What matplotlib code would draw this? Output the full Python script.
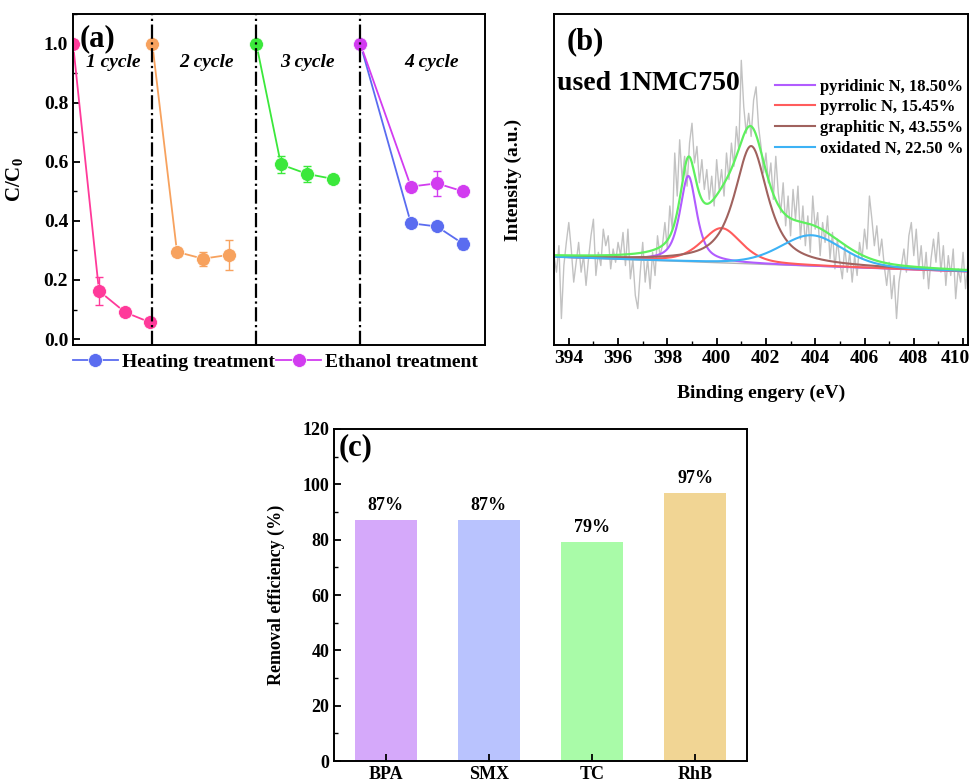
import numpy as np
import matplotlib
matplotlib.use("Agg")
import matplotlib.pyplot as plt
from matplotlib.ticker import MultipleLocator, FormatStrFormatter
from matplotlib.transforms import ScaledTranslation

# ---------------- data: (a) cycling test ----------------
cycle_x = [[0, 1, 2, 2.95], [3.05, 4, 5, 6], [7.05, 8, 9, 10]]
cycle_y = [[1.0, 0.163, 0.091, 0.057],
           [1.0, 0.295, 0.272, 0.285],
           [1.0, 0.591, 0.559, 0.542]]
cycle_err = [[0, 0.047, 0, 0],
             [0, 0, 0.024, 0.05],
             [0, 0.029, 0.028, 0]]
cycle_colors = ["#FF3A9A", "#F7A25E", "#3BE83B"]
cycle_labels = ["1 cycle", "2 cycle", "3 cycle", "4 cycle"]
cycle_label_x = [1.55, 5.15, 9.0, 13.8]
cycle_bounds = [3.05, 7.05, 11.05]

c4_x = [11.05, 13, 14, 15]
heat_y = [1.0, 0.392, 0.381, 0.323]
heat_err = [0, 0, 0, 0.019]
eth_y = [1.0, 0.516, 0.527, 0.500]
eth_err = [0, 0, 0.043, 0]

# ---------------- data: (b) N 1s XPS ----------------
raw_start, raw_step = 393.4, 0.1
raw_int = [27, 22, 30, 8, 24, 31, 37, 29, 19, 25, 31, 22, 27, 18, 26, 33, 38, 21, 28, 24,
           35, 30, 33, 23, 29, 25, 31, 27, 34, 24, 35, 20, 26, 15, 11, 22, 31, 19, 26, 17,
           28, 21, 33, 27, 30, 37, 29, 42, 35, 58, 45, 62, 50, 57, 48, 61, 67, 55, 60, 49,
           56, 47, 53, 44, 51, 42, 56, 47, 53, 45, 58, 50, 61, 54, 66, 59, 86, 72, 64, 70,
           63, 74, 78, 66, 60, 52, 58, 49, 55, 44, 57, 46, 40, 49, 36, 45, 33, 47, 38, 48,
           32, 42, 30, 39, 28, 45, 35, 40, 27, 37, 31, 39, 26, 34, 23, 32, 25, 20, 30, 22,
           28, 19, 27, 21, 31, 26, 35, 29, 45, 38, 30, 36, 27, 32, 24, 18, 25, 14, 21, 8,
           19, 24, 29, 22, 33, 37, 27, 35, 23, 30, 20, 28, 17, 26, 32, 25, 34, 22, 30, 18,
           27, 21, 29, 14, 23, 19, 28, 17, 25]
raw_e = raw_start + raw_step * np.arange(len(raw_int))

bg_e = [393.4, 410.2]
bg_int = [26.6, 22.2]

peak_names = ["pyridinic N, 18.50%", "pyrrolic N, 15.45%",
              "graphitic N, 43.55%", "oxidated N, 22.50 %"]
peak_center = [398.85, 400.2, 401.4, 403.85]
peak_height = [25.9, 10.5, 35.6, 9.3]
peak_fwhm = [0.8, 1.9, 1.6, 3.0]
peak_eta = [0.7, 0.5, 0.8, 0.3]
peak_colors = ["#B15CFF", "#FF5C5C", "#A0625E", "#3DB2F5"]

# ---------------- data: (c) pollutants ----------------
pollutants = ["BPA", "SMX", "TC", "RhB"]
removal = [87, 87, 79, 97]
bar_colors = ["#D5A9FA", "#B9C3FE", "#A9FBA8", "#F1D594"]

# ---------------- style ----------------
plt.rcParams["font.family"] = ["Liberation Serif", "DejaVu Serif"]
plt.rcParams["font.weight"] = "bold"
plt.rcParams["axes.labelweight"] = "bold"
plt.rcParams["mathtext.fontset"] = "custom"
plt.rcParams["mathtext.rm"] = "Liberation Serif:bold"
plt.rcParams["mathtext.bf"] = "Liberation Serif:bold"
plt.rcParams["axes.linewidth"] = 1.4
plt.rcParams["xtick.direction"] = "in"
plt.rcParams["ytick.direction"] = "in"

W, H = 972, 783
fig = plt.figure(figsize=(W / 100, H / 100), dpi=100)


def box(left, top, right, bottom):
    return [left / W, 1 - bottom / H, (right - left) / W, (bottom - top) / H]


mk = dict(marker="o", ms=10, mec="white", mew=0.5)

# ---------------- (a) ----------------
ax = fig.add_axes(box(73, 14, 485, 345))
for x, y, e, c in zip(cycle_x, cycle_y, cycle_err, cycle_colors):
    ax.plot(x, y, color=c, lw=1.3, **mk)
    e = np.array(e)
    k = e > 0
    ax.errorbar(np.array(x)[k], np.array(y)[k], yerr=e[k], fmt="none",
                ecolor=c, elinewidth=1, capsize=3, capthick=1)

h_heat, = ax.plot(c4_x, heat_y, color="#5A6CF0", lw=1.3, label="Heating treatment", **mk)
h_eth, = ax.plot(c4_x, eth_y, color="#D23CF0", lw=1.3, label="Ethanol treatment", **mk)
for y, e, c in [(heat_y, heat_err, "#5A6CF0"), (eth_y, eth_err, "#D23CF0")]:
    e = np.array(e)
    k = e > 0
    ax.errorbar(np.array(c4_x)[k], np.array(y)[k], yerr=e[k], fmt="none",
                ecolor=c, elinewidth=1, capsize=3, capthick=1)

for xb in cycle_bounds:
    ax.axvline(xb, color="black", lw=1.6, ls="-.")
for lab, xl in zip(cycle_labels, cycle_label_x):
    ax.text(xl, 0.936, lab, ha="center", va="center", fontsize=14, style="italic")

ax.text(0.017, 0.925, "(a)", transform=ax.transAxes, fontsize=22, va="center")
ax.set_xlim(0, 15.85)
ax.set_ylim(-0.02, 1.1)
ax.set_xticks([])
ax.yaxis.set_major_locator(MultipleLocator(0.2))
ax.yaxis.set_minor_locator(MultipleLocator(0.1))
ax.yaxis.set_major_formatter(FormatStrFormatter("%.1f"))
ax.tick_params(axis="y", labelsize=14, width=1.3, length=5)
ax.tick_params(axis="y", which="minor", width=1, length=3)
ax.set_ylabel(r"C/C$_{\mathrm{0}}$", fontsize=15)
ax.yaxis.set_label_coords(-0.115, 0.5)
ax.legend(handles=[h_heat, h_eth], loc="upper left", bbox_to_anchor=(0.0, -0.025),
          ncol=2, frameon=False, fontsize=14, handlelength=2.3, handletextpad=0.2,
          columnspacing=0.1, borderaxespad=0, borderpad=0)

# ---------------- (b) ----------------
bx = fig.add_axes(box(554, 14, 968, 345))
bx.plot(raw_e, raw_int, color="#C2C2C2", lw=1.0)
fit_e = np.linspace(bg_e[0], bg_e[1], 800)
bg = np.interp(fit_e, bg_e, bg_int)
bx.plot(fit_e, bg, color="#B4B4B4", lw=1.0)
total = bg.copy()
for name, c0, h, w, eta, col in zip(peak_names, peak_center, peak_height,
                                    peak_fwhm, peak_eta, peak_colors):
    lor = 1 / (1 + ((fit_e - c0) / (w / 2)) ** 2)
    gau = np.exp(-4 * np.log(2) * ((fit_e - c0) / w) ** 2)
    comp = h * (eta * lor + (1 - eta) * gau)
    total += comp
    bx.plot(fit_e, bg + comp, color=col, lw=1.5, label=name)
bx.plot(fit_e, total, color="#5EF05E", lw=1.6)

bx.set_xlim(393.4, 410.2)
bx.set_ylim(0, 100)
bx.set_yticks([])
bx.set_xticks(np.arange(394, 411, 2))
bx.xaxis.set_minor_locator(MultipleLocator(1))
bx.tick_params(axis="x", labelsize=14, width=1.3, length=5)
bx.tick_params(axis="x", which="minor", width=1, length=3)
bx.set_xlabel("Binding engery (eV)", fontsize=14)
bx.xaxis.set_label_coords(0.5, -0.12)
bx.set_ylabel("Intensity (a.u.)", fontsize=14)
bx.yaxis.set_label_coords(-0.077, 0.5)
bx.text(0.03, 0.915, "(b)", transform=bx.transAxes, fontsize=22, va="center")
bx.text(0.007, 0.79, "used 1NMC750", transform=bx.transAxes, fontsize=20, va="center")
bx.legend(loc="upper left", bbox_to_anchor=(0.533, 0.805), frameon=False, fontsize=12,
          handlelength=2.4, handletextpad=0.3, labelspacing=0.28,
          borderaxespad=0, borderpad=0)
# keep the "410" label inside the figure edge
last = bx.get_xticklabels()[-1]
last.set_horizontalalignment("right")
last.set_transform(last.get_transform() + ScaledTranslation(7 / 100, 0, fig.dpi_scale_trans))

# ---------------- (c) ----------------
cx = fig.add_axes(box(334, 429, 747, 761))
pos = np.arange(1, len(pollutants) + 1)
cx.bar(pos, removal, width=0.6, color=bar_colors)
for p, v in zip(pos, removal):
    cx.text(p, v + 2.2, f"{v}%", ha="center", va="bottom", fontsize=13)
cx.set_xlim(0.5, 4.5)
cx.set_ylim(0, 120)
cx.set_xticks(pos)
cx.set_xticklabels(pollutants)
cx.yaxis.set_major_locator(MultipleLocator(20))
cx.yaxis.set_minor_locator(MultipleLocator(10))
cx.tick_params(labelsize=13, width=1.3, length=5)
cx.tick_params(axis="y", which="minor", width=1, length=3)
cx.set_ylabel("Removal efficiency (%)", fontsize=13)
cx.yaxis.set_label_coords(-0.119, 0.5)
cx.text(0.01, 0.943, "(c)", transform=cx.transAxes, fontsize=22, va="center")

fig.savefig("out.png", dpi=100)
